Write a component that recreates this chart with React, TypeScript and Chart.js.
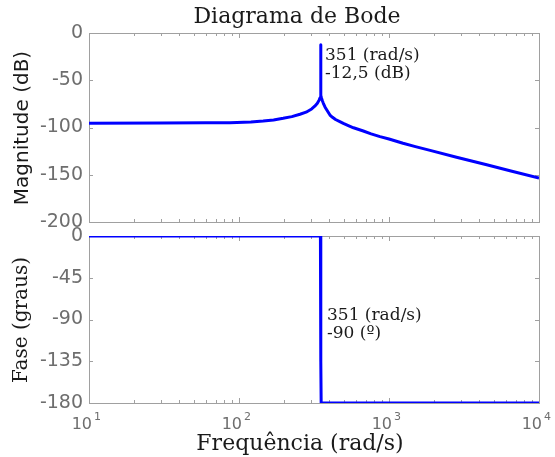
import React, { useEffect, useRef } from 'react';
import { Chart, registerables } from 'chart.js';

Chart.register(...registerables);

// ---- data ----
const magFreq = [10, 30, 60, 87, 120, 145, 170, 197, 225, 255, 280, 305, 320, 333, 342, 347, 350, 350.7, 351, 351.3, 352, 355, 360, 365, 375, 385, 404, 420, 440, 470, 496, 540, 580, 674, 760, 871, 1000, 1240, 1500, 1880, 2820, 4480, 6500, 10000];
const magDb = [-95.5, -95.3, -95.1, -95, -94.3, -93.2, -92, -90.3, -88.5, -86, -83.8, -80.4, -77.5, -74.4, -71, -68.5, -66, -40, -12.5, -40, -66, -69, -72, -74.4, -78.5, -81.5, -86.8, -89.2, -91.5, -93.8, -95.6, -98.2, -100.3, -103.7, -106.7, -109.7, -112.2, -116.7, -120.2, -124.2, -131.5, -139.5, -146, -153.5];
const phaseFreq = [10, 349, 350.5, 351.5, 353, 10000];
const phaseDeg = [0, 0, -45, -135, -180, -180];
const magTicks = [0, -50, -100, -150, -200];
const phaseTicks = [0, -45, -90, -135, -180];
const decades = [10, 100, 1000, 10000];
const decadeExp = ['1', '2', '3', '4'];

const W = 555;
const H = 457;
const BLUE = '#0000ff';
const FRAME = '#a0a0a0';
const TICK_TXT = '#6e6e6e';
const TXT = '#1a1a1a';

function frameTicks(chart: any, yTicks: number[]) {
  const { ctx, chartArea: a, scales } = chart;
  const x = scales.x;
  const y = scales.y;
  ctx.save();
  ctx.strokeStyle = FRAME;
  ctx.lineWidth = 1;
  ctx.strokeRect(Math.round(a.left) + 0.5, Math.round(a.top) + 0.5, Math.round(a.right - a.left), Math.round(a.bottom - a.top));
  ctx.beginPath();
  for (const d of decades) {
    for (let m = 1; m < 10; m++) {
      const v = d * m;
      if (v > 10000) break;
      const px = Math.round(x.getPixelForValue(v)) + 0.5;
      const len = m === 1 ? 5 : 3;
      ctx.moveTo(px, a.top);
      ctx.lineTo(px, a.top + len);
      ctx.moveTo(px, a.bottom);
      ctx.lineTo(px, a.bottom - len);
    }
  }
  for (const t of yTicks) {
    const py = Math.round(y.getPixelForValue(t)) + 0.5;
    ctx.moveTo(a.left, py);
    ctx.lineTo(a.left + 4, py);
    ctx.moveTo(a.right, py);
    ctx.lineTo(a.right - 4, py);
  }
  ctx.stroke();
  ctx.restore();
}

function rotatedText(ctx: any, text: string, x: number, y: number, font: string) {
  ctx.save();
  ctx.translate(x, y);
  ctx.rotate(-Math.PI / 2);
  ctx.font = font;
  ctx.fillStyle = TXT;
  ctx.textAlign = 'center';
  ctx.textBaseline = 'alphabetic';
  ctx.fillText(text, 0, 0);
  ctx.restore();
}

function makeChart(
  canvas: HTMLCanvasElement,
  xs: number[],
  ys: number[],
  yMin: number,
  yMax: number,
  step: number,
  pad: { top: number; bottom: number },
  yTicks: number[],
  drawText: (chart: any) => void
) {
  return new Chart(canvas, {
    type: 'line',
    data: {
      datasets: [
        {
          data: xs.map((f, i) => ({ x: f, y: ys[i] })),
          borderColor: BLUE,
          borderWidth: 3,
          pointRadius: 0,
          tension: 0,
          fill: false,
          borderJoinStyle: 'round',
        },
      ],
    },
    options: {
      animation: false,
      responsive: false,
      maintainAspectRatio: false,
      events: [],
      layout: { padding: { left: 0, right: 16, top: pad.top, bottom: pad.bottom } },
      plugins: { legend: { display: false }, tooltip: { enabled: false }, title: { display: false } },
      scales: {
        x: {
          type: 'logarithmic',
          min: 10,
          max: 10000,
          display: false,
        },
        y: {
          type: 'linear',
          min: yMin,
          max: yMax,
          grid: { display: false, drawTicks: false },
          border: { display: false },
          ticks: {
            stepSize: step,
            padding: 6,
            color: TICK_TXT,
            font: { family: 'DejaVu Sans', size: 19 },
          },
          afterFit: (s: any) => {
            s.width = 89;
          },
        },
      },
    },
    plugins: [
      {
        id: 'frame',
        beforeDatasetsDraw(chart: any) {
          frameTicks(chart, yTicks);
        },
        afterDraw(chart: any) {
          drawText(chart);
        },
      },
    ],
  } as any);
}

export default function App() {
  const topRef = useRef<HTMLCanvasElement>(null);
  const botRef = useRef<HTMLCanvasElement>(null);

  useEffect(() => {
    if (!topRef.current || !botRef.current) return;
    const top = makeChart(topRef.current, magFreq, magDb, -200, 0, 50, { top: 33, bottom: H - 222 }, magTicks, (chart) => {
      const ctx = chart.ctx;
      ctx.save();
      ctx.fillStyle = TXT;
      ctx.font = '22px "DejaVu Serif"';
      ctx.textAlign = 'center';
      ctx.textBaseline = 'alphabetic';
      ctx.fillText('Diagrama de Bode', 297, 23);
      ctx.font = '17px "DejaVu Serif"';
      ctx.textAlign = 'left';
      ctx.fillText('351 (rad/s)', 325, 60);
      ctx.fillText('-12,5 (dB)', 325, 78);
      ctx.restore();
      rotatedText(ctx, 'Magnitude (dB)', 28, 128, '20px "DejaVu Sans"');
    });
    const bot = makeChart(botRef.current, phaseFreq, phaseDeg, -180, 0, 45, { top: 236, bottom: H - 403 }, phaseTicks, (chart) => {
      const ctx = chart.ctx;
      const x = chart.scales.x;
      ctx.save();
      ctx.fillStyle = TXT;
      ctx.font = '17px "DejaVu Serif"';
      ctx.textAlign = 'left';
      ctx.textBaseline = 'alphabetic';
      ctx.fillText('351 (rad/s)', 327, 320);
      ctx.fillText('-90 (º)', 327, 338);
      ctx.font = '22px "DejaVu Serif"';
      ctx.textAlign = 'center';
      ctx.fillText('Frequência (rad/s)', 300, 450);
      // decade tick labels
      ctx.fillStyle = TICK_TXT;
      decades.forEach((d, i) => {
        const px = x.getPixelForValue(d);
        ctx.font = '16px "DejaVu Sans"';
        ctx.textAlign = 'right';
        ctx.fillText('10', px + 3, 429);
        ctx.font = '11px "DejaVu Sans"';
        ctx.textAlign = 'left';
        ctx.fillText(decadeExp[i], px + 5, 420);
      });
      ctx.restore();
      rotatedText(ctx, 'Fase (graus)', 27, 320, '20px "DejaVu Serif"');
    });
    return () => {
      top.destroy();
      bot.destroy();
    };
  }, []);

  const cs: React.CSSProperties = { position: 'absolute', left: 0, top: 0, width: W, height: H };
  return (
    <div style={{ position: 'fixed', left: 0, top: 0, width: W, height: H, background: '#fff' }}>
      <canvas ref={topRef} width={W} height={H} style={cs} />
      <canvas ref={botRef} width={W} height={H} style={cs} />
    </div>
  );
}
